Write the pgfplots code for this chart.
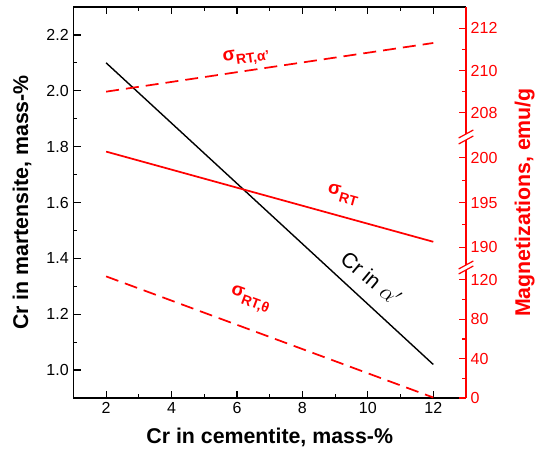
\documentclass[border=0pt]{standalone}
\usepackage{fontspec}
\setmainfont{Liberation Sans}
\usepackage{pgfplots}
\pgfplotsset{compat=1.18}
\usetikzlibrary{calc}
\definecolor{myred}{RGB}{255,0,0}
\pgfplotsset{
  common/.style={
    scale only axis, width=294.45pt, xmin=1, xmax=13,
    tick align=inside,
    major tick length=5.5pt, minor tick length=3pt,
    /pgf/number format/assume math mode=true,
    ticklabel style={font=\fontsize{12}{14}\selectfont},
    every tick/.style={line width=0.9pt},
    axis line style={line width=1.1pt,-},
  },
  seg/.style={
    common, axis x line=none, axis y line*=right,
    axis line style={myred,line width=1.1pt,-},
    every tick/.style={myred,line width=0.9pt},
    yticklabel style={myred},
    minor y tick num=1,
    clip=false,
  },
}
\begin{document}
\begin{tikzpicture}
\begin{axis}[common, name=main, height=293.25pt,
  ymin=0.9, ymax=2.3,
  axis x line*=box, axis y line*=left,
  xtick={2,4,...,12}, minor x tick num=1,
  ytick={1.0,1.2,...,2.21}, minor y tick num=1,
  yticklabel style={/pgf/number format/fixed,/pgf/number format/fixed zerofill,/pgf/number format/precision=1},
]
\addplot[black, line width=1.05pt] coordinates {(2,2.10) (12,1.02)};
\node[rotate=-40, font=\fontsize{16}{19}\selectfont] at (axis cs:10.1,1.33) {Cr in $\alpha'$};
\node[myred, rotate=8, font={\bfseries\fontsize{14}{16}\selectfont}] at (axis cs:6.28,2.121) {σ{\fontsize{10.5}{12}\selectfont\raisebox{-4pt}{RT,α'}}};
\node[myred, rotate=-15.3, font={\bfseries\fontsize{14}{16}\selectfont}] at (axis cs:9.24,1.627) {σ{\fontsize{10.5}{12}\selectfont\raisebox{-4pt}{RT}}};
\node[myred, rotate=-20.2, font={\bfseries\fontsize{14}{16}\selectfont}] at (axis cs:6.40,1.251) {σ{\fontsize{10.5}{12}\selectfont\raisebox{-4pt}{RT,θ}}};
\end{axis}
% bottom segment 0-130
\begin{axis}[seg, at={(main.south west)}, anchor=south west, height=96pt,
  ymin=0, ymax=130, ytick={0,40,80,120}]
\addplot[myred, line width=1.3pt, dash pattern=on 9.75pt off 5.25pt] coordinates {(2,123.5) (12,0.5)};
\end{axis}
% middle segment 188-202
\begin{axis}[seg, at={($(main.south west)+(0,99.75pt)$)}, anchor=south west, height=93.75pt,
  ymin=188, ymax=202, ytick={190,195,200}]
\addplot[myred, line width=1.3pt] coordinates {(2,200.7) (12,190.6)};
\end{axis}
% top segment 207-213
\begin{axis}[seg, at={($(main.south west)+(0,198pt)$)}, anchor=south west, height=95.25pt,
  ymin=207, ymax=213, ytick={208,210,212}]
\addplot[myred, line width=1.3pt, dash pattern=on 9.75pt off 5.25pt] coordinates {(2,209.0) (12,211.3)};
\end{axis}
% axis breaks
\foreach \yy in {96pt,99.75pt,193.5pt,198pt}{
  \draw[myred, line width=0.9pt] ($(main.south east)+(-5.5pt,\yy)+(0,-3pt)$) -- ++(11pt,6pt);
}
% axis labels
\node[font={\bfseries\fontsize{16}{19}\selectfont}] at ($(main.south)+(0,-29.25pt)$) {Cr in cementite, mass-\%};
\node[rotate=90, font={\bfseries\fontsize{16}{19}\selectfont}] at ($(main.west)+(-38.5pt,0)$) {Cr in martensite, mass-\%};
\node[rotate=90, myred, font={\bfseries\fontsize{16}{19}\selectfont}] at ($(main.east)+(44pt,0)$) {Magnetizations, emu/g};
\pgfresetboundingbox
\useasboundingbox ($(main.south west)+(-55.05pt,-43.5pt)$) rectangle ($(main.north east)+(52.5pt,5.25pt)$);
\end{tikzpicture}
\end{document}
